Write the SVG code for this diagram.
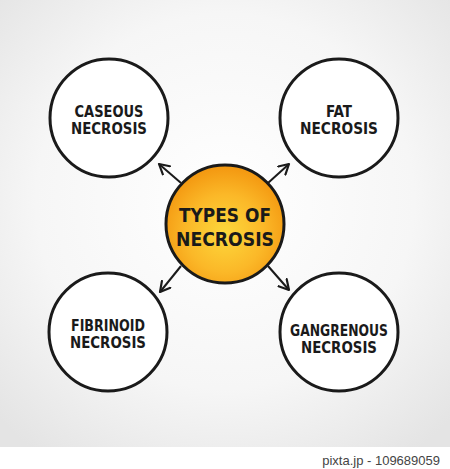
<svg xmlns="http://www.w3.org/2000/svg" width="450" height="469" viewBox="0 0 450 469">
<defs>
<radialGradient id="bg" cx="50%" cy="45%" r="70%">
<stop offset="0" stop-color="#ffffff"/>
<stop offset="0.6" stop-color="#f6f6f6"/>
<stop offset="1" stop-color="#e4e4e4"/>
</radialGradient>
<radialGradient id="core" cx="50%" cy="58%" r="55%">
<stop offset="0" stop-color="#fdd83c"/>
<stop offset="0.6" stop-color="#fbb828"/>
<stop offset="1" stop-color="#f49a12"/>
</radialGradient>
<marker id="ah" viewBox="0 0 12 12" refX="10" refY="6" markerWidth="13" markerHeight="13" markerUnits="userSpaceOnUse" orient="auto">
<path d="M1,1 L10,6 L1,11" fill="none" stroke="#1a1a1a" stroke-width="2" stroke-linecap="round" stroke-linejoin="round"/>
</marker>
<style>
.ring{fill:#ffffff;stroke:#1a1a1a;stroke-width:3}
.lbl{font-family:"DejaVu Sans",sans-serif;font-weight:bold;font-size:15px;fill:#1a1a1a;text-anchor:middle;font-stretch:condensed}
.big{font-size:20px}
.con{stroke:#1a1a1a;stroke-width:2;fill:none;marker-end:url(#ah)}
</style>
</defs>
<rect width="450" height="447" fill="url(#bg)"/>
<rect y="447" width="450" height="22" fill="#ffffff"/>
<g id="connectors">
<line class="con" x1="181" y1="183" x2="159" y2="164"/>
<line class="con" x1="268" y1="183" x2="289" y2="164"/>
<line class="con" x1="181" y1="266" x2="160" y2="292"/>
<line class="con" x1="268" y1="266" x2="289" y2="290"/>
</g>
<g id="caseous">
<circle class="ring" cx="109" cy="118" r="59"/>
<text class="lbl" x="109" y="117" textLength="69" lengthAdjust="spacingAndGlyphs">CASEOUS</text>
<text class="lbl" x="109" y="134" textLength="76" lengthAdjust="spacingAndGlyphs">NECROSIS</text>
</g>
<g id="fat">
<circle class="ring" cx="339" cy="118" r="59"/>
<text class="lbl" x="339" y="117">FAT</text>
<text class="lbl" x="339" y="134" textLength="78" lengthAdjust="spacingAndGlyphs">NECROSIS</text>
</g>
<g id="types">
<circle cx="225" cy="224" r="59" fill="url(#core)" stroke="#1a1a1a" stroke-width="3"/>
<text class="lbl big" x="225" y="222" textLength="92" lengthAdjust="spacingAndGlyphs">TYPES OF</text>
<text class="lbl big" x="225" y="246" textLength="98" lengthAdjust="spacingAndGlyphs">NECROSIS</text>
</g>
<g id="fibrinoid">
<circle class="ring" cx="108" cy="332" r="59"/>
<text class="lbl" x="108" y="331" textLength="74" lengthAdjust="spacingAndGlyphs">FIBRINOID</text>
<text class="lbl" x="108" y="348" textLength="76" lengthAdjust="spacingAndGlyphs">NECROSIS</text>
</g>
<g id="gangrenous">
<circle class="ring" cx="339" cy="332" r="59"/>
<text class="lbl" x="339" y="336" textLength="98" lengthAdjust="spacingAndGlyphs">GANGRENOUS</text>
<text class="lbl" x="339" y="353" textLength="76" lengthAdjust="spacingAndGlyphs">NECROSIS</text>
</g>
<text x="440" y="465" font-family="'Liberation Sans',sans-serif" font-size="13" fill="#444" text-anchor="end">pixta.jp - 109689059</text>
</svg>
